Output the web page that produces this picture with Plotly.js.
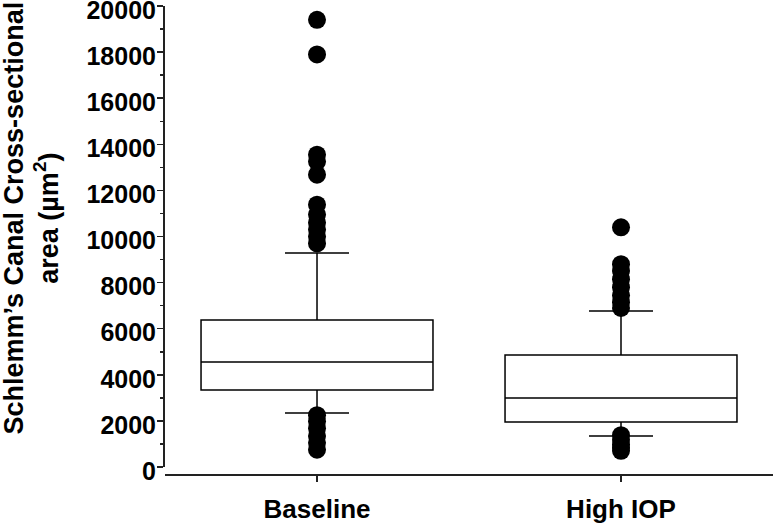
<!DOCTYPE html>
<html>
<head>
<meta charset="utf-8">
<script src="https://cdn.plot.ly/plotly-3.0.1.min.js"></script>
<style>html,body{margin:0;padding:0;background:#fff}</style>
</head>
<body>
<div id="chart" style="width:774px;height:524px"></div>
<script>
// Categories
const groups = ['Baseline', 'High IOP'];
// Box statistics (µm²)
const q1 = [3340, 1950];
const medians = [4560, 2990];
const q3 = [6380, 4860];
const lowerWhisker = [2340, 1350];
const upperWhisker = [9280, 6770];
// Outliers
const baselineOutliers = [19400, 17900, 13550, 13250, 12680, 11380, 10950, 10600, 10300, 10000, 9700,
                          2250, 1980, 1680, 1350, 1050, 750];
const highIopOutliers = [10400, 8800, 8500, 8150, 7800, 7450, 7150, 6900,
                         1380, 1180, 980, 820, 700];
// Y axis ticks
const yTicks = [0, 2000, 4000, 6000, 8000, 10000, 12000, 14000, 16000, 18000, 20000];
const yMinorTicks = [1000, 3000, 5000, 7000, 9000, 11000, 13000, 15000, 17000, 19000];
const yTitle = 'Schlemm’s Canal Cross-sectional<br>area (µm<sup>2</sup>)';

const black = '#000';
const traces = [
  {
    type: 'box',
    x: groups,
    q1: q1, median: medians, q3: q3,
    lowerfence: lowerWhisker, upperfence: upperWhisker,
    boxpoints: false,
    width: 0.763,
    whiskerwidth: 0.276,
    fillcolor: '#fff',
    line: {color: black, width: 1.5},
    hoverinfo: 'none',
    showlegend: false
  },
  {
    type: 'scatter', mode: 'markers',
    x: baselineOutliers.map(() => groups[0]), y: baselineOutliers,
    marker: {color: black, size: 18, line: {width: 0}},
    showlegend: false, hoverinfo: 'none'
  },
  {
    type: 'scatter', mode: 'markers',
    x: highIopOutliers.map(() => groups[1]), y: highIopOutliers,
    marker: {color: black, size: 18, line: {width: 0}},
    showlegend: false, hoverinfo: 'none'
  }
];

const layout = {
  width: 774, height: 524,
  margin: {l: 163, r: 1, t: 6, b: 50},
  paper_bgcolor: '#fff', plot_bgcolor: '#fff',
  font: {family: 'Liberation Sans, Arial, sans-serif', color: black},
  showlegend: false,
  xaxis: {
    type: 'category',
    range: [-0.5, 1.5],
    domain: [0.0033, 1],
    anchor: 'free', position: 0,
    showline: true, linecolor: '#222', linewidth: 1.5,
    ticks: 'outside', ticklen: 6, tickwidth: 1.5, tickcolor: '#222',
    tickfont: {size: 26, weight: 700, color: black},
    showgrid: false, zeroline: false,
    ticklabelstandoff: 5
  },
  yaxis: {
    range: [0, 20000],
    domain: [7 / 468, 1],
    anchor: 'free', position: 0,
    tickmode: 'array',
    tickvals: yTicks,
    ticktext: yTicks.map(String),
    showline: true, linecolor: '#222', linewidth: 1.5,
    ticks: 'outside', ticklen: 6, tickwidth: 1.5, tickcolor: '#222',
    minor: {tickmode: 'array', tickvals: yMinorTicks, ticks: 'outside', ticklen: 3, tickwidth: 1.5, tickcolor: '#222', showgrid: false},
    tickfont: {size: 25, weight: 700, color: black},
    ticklabelstandoff: -4,
    ticklabelshift: 4,
    ticklabeloverflow: 'allow',
    showgrid: false, zeroline: false,
    automargin: false
  },
  annotations: [{
    xref: 'paper', yref: 'paper',
    x: (31.5 - 163) / 610, y: (474 - 218) / 468,
    xanchor: 'center', yanchor: 'middle',
    text: yTitle, textangle: -90, showarrow: false,
    font: {size: 27, weight: 700, color: black}
  }]
};

Plotly.newPlot('chart', traces, layout, {displayModeBar: false, staticPlot: true});
</script>
</body>
</html>
